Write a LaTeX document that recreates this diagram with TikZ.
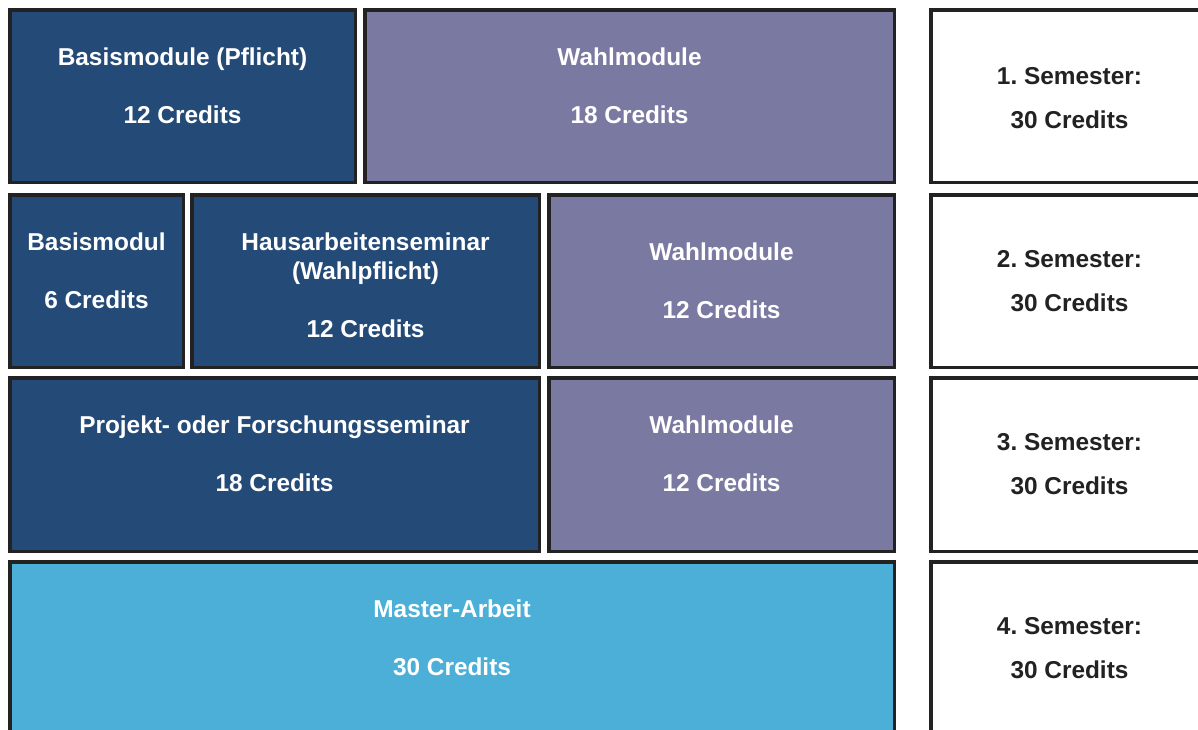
\documentclass[tikz,border=0pt]{standalone}
\usepackage{fontspec}
\setmainfont{Liberation Sans}
\frenchspacing
\definecolor{basisblau}{HTML}{244A78}
\definecolor{wahllila}{HTML}{7A79A1}
\definecolor{masterblau}{HTML}{4CAFD7}
\definecolor{rahmen}{HTML}{222222}
\tikzset{modbox/.style={draw=rahmen, line width=1.75pt, inner sep=0pt}}
\tikzset{basis/.style={modbox, fill=basisblau}}
\tikzset{wahl/.style={modbox, fill=wahllila}}
\tikzset{master/.style={modbox, fill=masterblau}}
\tikzset{semester/.style={modbox, fill=white}}
\tikzset{modtext/.style={anchor=base, align=center, text=white,
    font=\fontsize{12.2}{14.5}\bfseries\selectfont}}
\tikzset{semtext/.style={modtext, text=rahmen}}

\begin{document}
\begin{tikzpicture}[x=0.5pt, y=-0.5pt]
    \useasboundingbox (0,0) rectangle (1198,729);
    \clip (0,0) rectangle (1198,729);
    % 1. Semester
    \node[basis, minimum width=172.75pt, minimum height=86.25pt] (bm1) at (182.5,96) {};
    \node[wahl, minimum width=264.75pt, minimum height=86.25pt] (wm1) at (629.5,96) {};
    \node[semester, minimum width=138.75pt, minimum height=86.25pt] (sem1) at (1069.5,96) {};
    % 2. Semester
    \node[basis, minimum width=86.75pt, minimum height=86.25pt] (bm2) at (96.5,281) {};
    \node[basis, minimum width=173.75pt, minimum height=86.25pt] (has2) at (365.5,281) {};
    \node[wahl, minimum width=172.75pt, minimum height=86.25pt] (wm2) at (721.5,281) {};
    \node[semester, minimum width=138.75pt, minimum height=86.25pt] (sem2) at (1069.5,281) {};
    % 3. Semester
    \node[basis, minimum width=264.75pt, minimum height=86.75pt] (pfs3) at (274.5,464.5) {};
    \node[wahl, minimum width=172.75pt, minimum height=86.75pt] (wm3) at (721.5,464.5) {};
    \node[semester, minimum width=138.75pt, minimum height=86.75pt] (sem3) at (1069.5,464.5) {};
    % 4. Semester
    \node[master, minimum width=442.25pt, minimum height=88.25pt] (ma4) at (452,650) {};
    \node[semester, minimum width=138.75pt, minimum height=88.25pt] (sem4) at (1069.5,650) {};

    % texts: base = baseline of the last line
    \node[modtext] (tbm1) at ([yshift=-57.9pt]bm1.north) {Basismodule (Pflicht)\\[14.5pt]12 Credits};
    \node[modtext] (twm1) at ([yshift=-57.9pt]wm1.north) {Wahlmodule\\[14.5pt]18 Credits};
    \node[semtext] (tsem1) at ([yshift=-60.3pt]sem1.north) {1. Semester:\\[7.5pt]30 Credits};
    \node[modtext] (tbm2) at ([yshift=-57.9pt]bm2.north) {Basismodul\\[14.5pt]6 Credits};
    \node[modtext] (thas2) at ([yshift=-72.4pt]has2.north) {Hausarbeitenseminar\\(Wahlpflicht)\\[14.5pt]12 Credits};
    \node[modtext] (twm2) at ([yshift=-62.9pt]wm2.north) {Wahlmodule\\[14.5pt]12 Credits};
    \node[semtext] (tsem2) at ([yshift=-59.4pt]sem2.north) {2. Semester:\\[7.5pt]30 Credits};
    \node[modtext] (tpfs3) at ([yshift=-57.9pt]pfs3.north) {Projekt- oder Forschungsseminar\\[14.5pt]18 Credits};
    \node[modtext] (twm3) at ([yshift=-57.9pt]wm3.north) {Wahlmodule\\[14.5pt]12 Credits};
    \node[semtext] (tsem3) at ([yshift=-59.4pt]sem3.north) {3. Semester:\\[7.5pt]30 Credits};
    \node[modtext] (tma4) at ([yshift=-57.9pt]ma4.north) {Master-Arbeit\\[14.5pt]30 Credits};
    \node[semtext] (tsem4) at ([yshift=-59.4pt]sem4.north) {4. Semester:\\[7.5pt]30 Credits};
\end{tikzpicture}
\end{document}
